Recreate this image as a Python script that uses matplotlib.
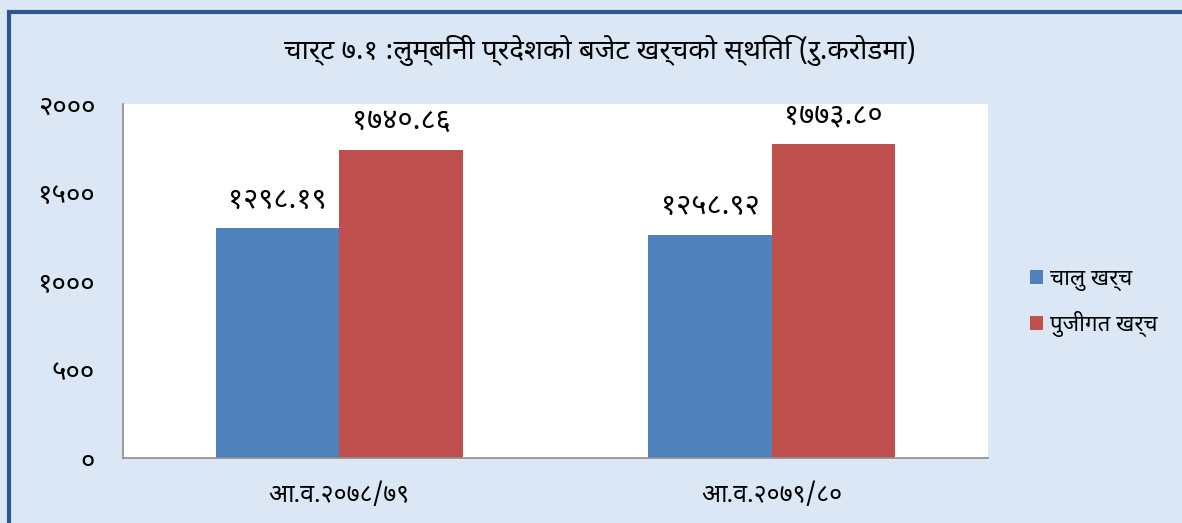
import matplotlib
matplotlib.use("Agg")
import matplotlib.pyplot as plt
from matplotlib import font_manager
from matplotlib.ft2font import FT2Font
from matplotlib.patches import Rectangle

# ---- data ----
categories = ["आ.व.२०७८/७९", "आ.व.२०७९/८०"]
series_names = ["चालु खर्च", "पुजीगत खर्च"]
current_exp = [1298.19, 1258.92]
capital_exp = [1740.86, 1773.80]
current_labels = ["१२९८.१९", "१२५८.९२"]
capital_labels = ["१७४०.८६", "१७७३.८०"]
ytick_values = [0, 500, 1000, 1500, 2000]
ytick_labels = ["०", "५००", "१०००", "१५००", "२०००"]
title = "चार्ट ७.१ :लुम्बिनी प्रदेशको बजेट खर्चको स्थिति (रु.करोडमा)"

# ---- find a font with Devanagari glyphs, if any ----
deva = []
for f in font_manager.fontManager.ttflist:
    try:
        ft = FT2Font(f.fname)
        if ft.get_char_index(ord("च")) and f.name not in [d[0] for d in deva]:
            ft.set_size(12, 72)
            ft.set_text("चालु खर्च")
            w, _ = ft.get_width_height()
            deva.append((f.name, w))
    except Exception:
        pass
preferred = ["Noto Sans Devanagari", "Lohit Devanagari", "Mukta", "Hind",
             "Kalimati", "Gargi", "FreeSans", "Noto Serif Devanagari"]
chosen = []
for p in preferred:
    if p in [d[0] for d in deva]:
        chosen = [p]
        break
if not chosen and deva:
    chosen = [sorted(deva, key=lambda d: d[1])[0][0]]
plt.rcParams["font.family"] = chosen + ["DejaVu Sans"]

fig = plt.figure(figsize=(11.82, 5.23), dpi=100)
bg = "#dbe7f5"
fig.patch.set_facecolor(bg)

# outer border (top & left visible)
W, H = 1182, 523
fig.add_artist(Rectangle((8.5 / W, -0.1), 1.2, (523 - 12) / H + 0.1,
                         transform=fig.transFigure, fill=False,
                         edgecolor="#2c5891", linewidth=3.0, zorder=0))

ax = fig.add_axes([123 / W, 1 - 458 / H, (988 - 123) / W, (458 - 104) / H])
ax.set_facecolor("white")

x = [0, 1]
bw = 0.285
b1 = ax.bar([i - bw / 2 for i in x], current_exp, bw, color="#4f81bd",
            label=series_names[0])
b2 = ax.bar([i + bw / 2 for i in x], capital_exp, bw, color="#c0504d",
            label=series_names[1])

for rect, lab in zip(b1, current_labels):
    ax.annotate(lab, (rect.get_x() + rect.get_width() / 2, rect.get_height()),
                xytext=(0, 10), textcoords="offset points", ha="center",
                va="bottom", fontsize=21, color="black")
for rect, lab in zip(b2, capital_labels):
    ax.annotate(lab, (rect.get_x() + rect.get_width() / 2, rect.get_height()),
                xytext=(0, 10), textcoords="offset points", ha="center",
                va="bottom", fontsize=21, color="black")

ax.set_xlim(-0.5, 1.5)
ax.set_ylim(0, 2000)
ax.set_yticks(ytick_values)
ax.set_yticklabels(ytick_labels, fontsize=20)
ax.set_xticks(x)
ax.set_xticklabels(categories, fontsize=18)
ax.tick_params(axis="x", length=0, pad=18)
ax.tick_params(axis="y", length=0, pad=20)
for s in ["top", "right"]:
    ax.spines[s].set_visible(False)
ax.spines["left"].set_color("#8c8c8c")
ax.spines["bottom"].set_color("#8c8c8c")
ax.spines["left"].set_linewidth(1.2)
ax.spines["bottom"].set_linewidth(1.2)

fig.text(600 / W, 1 - 50 / H, title, ha="center", va="center",
         fontsize=20, fontweight="bold")

leg = fig.legend(handles=[b1, b2], labels=series_names,
                 loc="center left", bbox_to_anchor=(1010 / W, 1 - 303 / H),
                 frameon=False, fontsize=16, handlelength=0.6,
                 handleheight=0.6, handletextpad=0.3, labelspacing=0.9)

fig.savefig("out.png", dpi=100, facecolor=fig.get_facecolor())
